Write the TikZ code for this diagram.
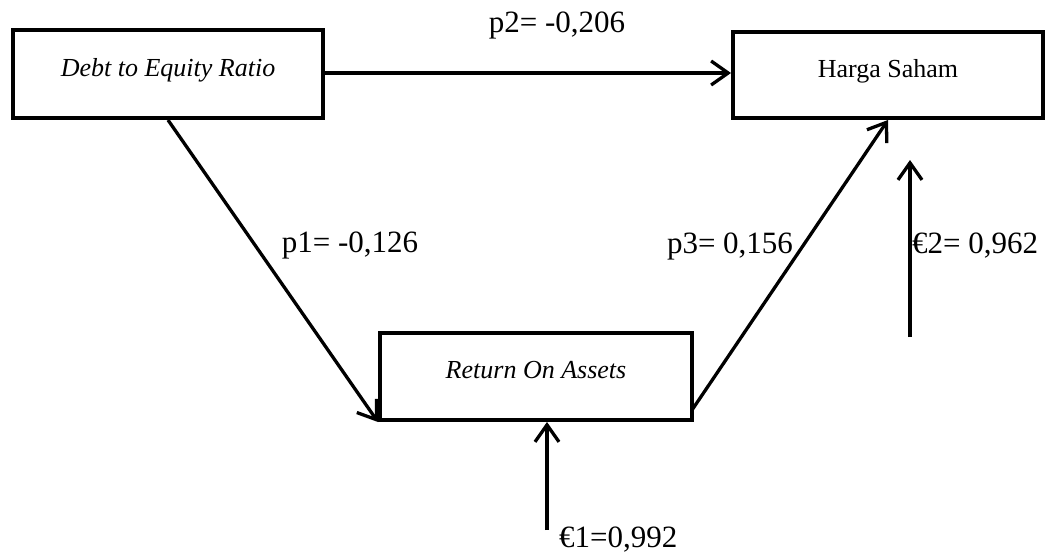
\documentclass[tikz,border=0pt]{standalone}
\usepackage{fontspec}
\setmainfont{Liberation Serif}
\usetikzlibrary{arrows.meta}
\begin{document}
\begin{tikzpicture}[x=1pt,y=-1pt,
  box/.style={draw, line width=4pt, rectangle, inner sep=0pt,
    font=\fontsize{26}{30}\selectfont, text height=0.68em, text depth=0.22em},
  arr/.style={line width=3.3pt, -{Straight Barb[length=17pt,width=24pt,line width=3.3pt]}},
  lab/.style={inner sep=0pt, font=\fontsize{31}{36}\selectfont}]
\useasboundingbox (0,0) rectangle (1050,554);
\node[box, minimum width=310pt, minimum height=88pt] (der) at (168,74) {\itshape Debt to Equity Ratio};
\node[box, minimum width=310pt, minimum height=86pt] (hs) at (888,75) {Harga Saham};
\node[box, minimum width=312pt, minimum height=87pt] (roa) at (536,376.5) {\itshape Return On Assets};
\coordinate (p2y) at (0,73);
\coordinate (e1bot) at (547,530);
\coordinate (e2bot) at (910,337);
\coordinate (e2top) at (910,160);
\coordinate (roaout) at (692,410);
\draw[arr] (der.east |- p2y) -- (hs.west |- p2y);
\draw[arr] (der.south) -- (roa.south west);
\draw[arr] (roaout) -- (hs.south);
\draw[arr] (e1bot) -- (e1bot |- roa.south);
\draw[arr] (e2bot) -- (e2top);
\node[lab, anchor=base] (p2) at (557,32) {p2= -0,206};
\node[lab, anchor=base] (p1) at (350,252) {p1= -0,126};
\node[lab, anchor=base] (p3) at (730,253) {p3= 0,156};
\node[lab, anchor=base west] (e1) at (559,547) {€1=0,992};
\node[lab, anchor=base west] (e2) at (912,253) {€2= 0,962};
\end{tikzpicture}
\end{document}
